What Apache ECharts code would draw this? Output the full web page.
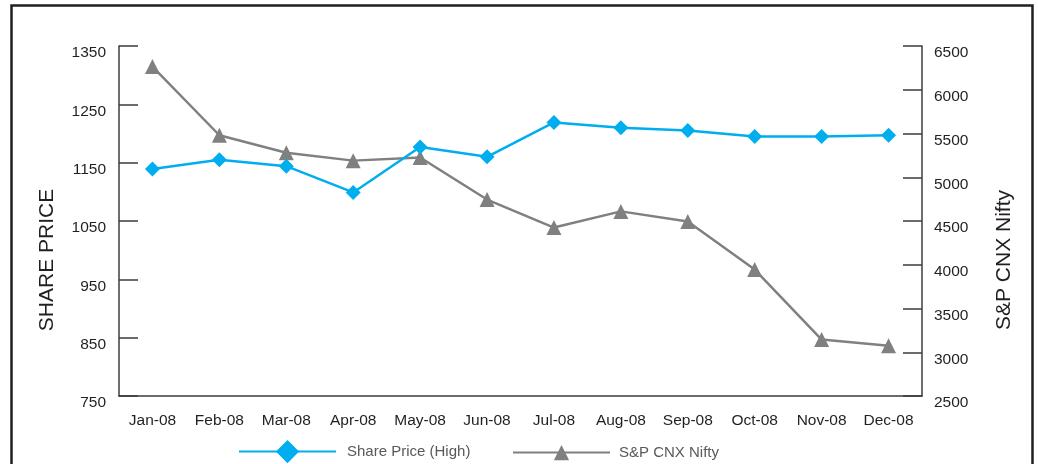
<!DOCTYPE html>
<html>
<head>
<meta charset="utf-8">
<script src="https://cdn.jsdelivr.net/npm/echarts@6/dist/echarts.min.js"></script>
<style>
html,body{margin:0;padding:0;background:#fff;}
#chart{width:1038px;height:464px;}
</style>
</head>
<body>
<div id="chart"></div>
<script>
var categories = ['Jan-08','Feb-08','Mar-08','Apr-08','May-08','Jun-08','Jul-08','Aug-08','Sep-08','Oct-08','Nov-08','Dec-08'];
var sharePrice = [1139, 1155, 1144, 1099, 1177, 1160, 1219, 1210, 1205, 1195, 1195, 1197];
var nifty = [6265, 5480, 5280, 5190, 5225, 4745, 4425, 4610, 4495, 3945, 3145, 3075];
var leftTicks = [750, 850, 950, 1050, 1150, 1250, 1350];
var rightTicks = [2500, 3000, 3500, 4000, 4500, 5000, 5500, 6000, 6500];
var leftName = 'SHARE PRICE';
var rightName = 'S&P CNX Nifty';
var seriesNames = ['Share Price (High)', 'S&P CNX Nifty'];

var FONT = "'Liberation Sans', Arial, Helvetica, sans-serif";
var AXIS_COLOR = '#3c3c3c';
var TEXT_COLOR = '#231f20';
var BLUE = '#00aeef';
var GRAY = '#808080';

function plain(v) { return String(v); }

var chart = echarts.init(document.getElementById('chart'), null, {renderer: 'canvas'});
chart.setOption({
  animation: false,
  textStyle: {fontFamily: FONT},
  grid: {left: 119, right: 116, top: 46, bottom: 68, containLabel: false},
  legend: [
    {
      data: [seriesNames[0]], left: 238, top: 440, padding: 0,
      itemWidth: 97, itemHeight: 29,
      textStyle: {fontFamily: FONT, fontSize: 15, color: '#58595b', padding: [0, 0, 0, 6]}
    },
    {
      data: [seriesNames[1]], left: 512, top: 445, padding: 0,
      itemWidth: 97, itemHeight: 19,
      textStyle: {fontFamily: FONT, fontSize: 15, color: '#58595b', padding: [0, 0, 0, 4]}
    }
  ],
  xAxis: {
    type: 'category',
    data: categories,
    boundaryGap: true,
    axisLine: {lineStyle: {color: AXIS_COLOR, width: 1.5}},
    axisTick: {inside: true, length: 8, interval: 0, lineStyle: {color: AXIS_COLOR, width: 1.5}},
    axisLabel: {interval: 0, margin: 17, fontSize: 15.5, color: TEXT_COLOR, fontFamily: FONT},
    splitLine: {show: false}
  },
  yAxis: [
    {
      type: 'value', position: 'left', min: 750, max: 1350,
      axisLine: {show: true, lineStyle: {color: AXIS_COLOR, width: 1.5}},
      axisTick: {show: true, inside: true, length: 19, customValues: leftTicks, lineStyle: {color: AXIS_COLOR, width: 1.5}},
      axisLabel: {customValues: leftTicks, formatter: plain, margin: 13, fontSize: 15.5, color: TEXT_COLOR, fontFamily: FONT, verticalAlign: 'top', lineHeight: 14},
      splitLine: {show: false}
    },
    {
      type: 'value', position: 'right', min: 2500, max: 6500,
      axisLine: {show: true, lineStyle: {color: AXIS_COLOR, width: 1.5}},
      axisTick: {show: true, inside: true, length: 19, customValues: rightTicks, lineStyle: {color: AXIS_COLOR, width: 1.5}},
      axisLabel: {customValues: rightTicks, formatter: plain, margin: 12, fontSize: 15.5, color: TEXT_COLOR, fontFamily: FONT, verticalAlign: 'top', lineHeight: 14},
      splitLine: {show: false}
    }
  ],
  series: [
    {
      name: seriesNames[1], type: 'line', yAxisIndex: 1, data: nifty,
      symbol: 'triangle', symbolSize: 15,
      lineStyle: {color: GRAY, width: 2.5},
      itemStyle: {color: GRAY},
      z: 2
    },
    {
      name: seriesNames[0], type: 'line', yAxisIndex: 0, data: sharePrice,
      symbol: 'diamond', symbolSize: 15,
      lineStyle: {color: BLUE, width: 2.5},
      itemStyle: {color: BLUE},
      z: 3
    }
  ],
  graphic: [
    {
      type: 'rect', silent: true,
      shape: {x: 11.5, y: 5.5, width: 1021, height: 480},
      style: {fill: 'none', stroke: '#231f20', lineWidth: 2.5}
    },
    {
      type: 'text', x: 47, y: 260, rotation: Math.PI / 2,
      style: {text: leftName, font: '21px ' + FONT, fill: TEXT_COLOR, textAlign: 'center', textVerticalAlign: 'middle'}
    },
    {
      type: 'text', x: 1004, y: 260, rotation: Math.PI / 2,
      style: {text: rightName, font: '21px ' + FONT, fill: TEXT_COLOR, textAlign: 'center', textVerticalAlign: 'middle'}
    }
  ]
});
</script>
</body>
</html>
